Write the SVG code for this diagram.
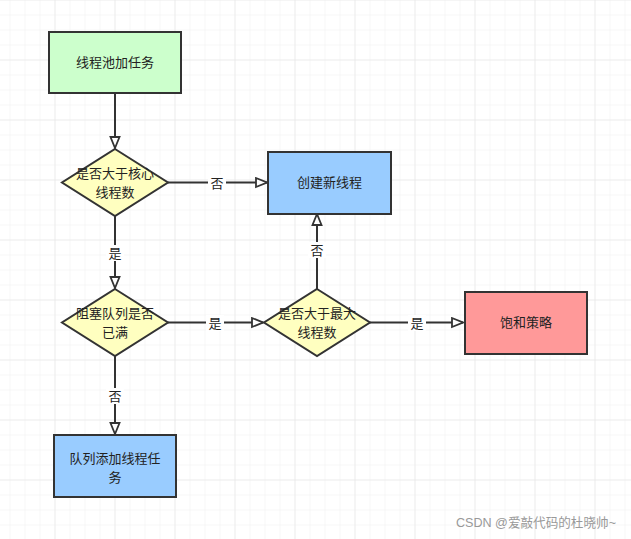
<svg xmlns="http://www.w3.org/2000/svg" width="631" height="539" viewBox="0 0 631 539">
<defs>
<pattern id="minor" x="9.5" y="14.5" width="15" height="15" patternUnits="userSpaceOnUse">
<path d="M0 0H15M0 0V15" fill="none" stroke="#efefef" stroke-width="1"/>
</pattern>
<pattern id="major" x="54.5" y="-0.5" width="60" height="60" patternUnits="userSpaceOnUse">
<path d="M0 0H60M0 0V60" fill="none" stroke="#e3e3e3" stroke-width="1"/>
</pattern>
<marker id="arr" markerWidth="14" markerHeight="12" refX="12" refY="6" orient="auto" markerUnits="userSpaceOnUse">
<path d="M1 1.5L12 6L1 10.5Z" fill="#fff" stroke="#333" stroke-width="1.8"/>
</marker>
</defs>
<style>
.n{stroke:#333;stroke-width:2}
.t{font-family:"Noto Sans CJK SC","Liberation Sans",sans-serif;font-size:13px;fill:#222;text-anchor:middle}
.l{font-family:"Noto Sans CJK SC","Liberation Sans",sans-serif;font-size:13px;fill:#222;text-anchor:middle}
.c{stroke:#333;stroke-width:2;fill:none;marker-end:url(#arr)}
.lb{fill:#fff}
</style>
<rect width="631" height="539" fill="#fff"/>
<rect width="631" height="539" fill="url(#minor)"/>
<rect width="631" height="539" fill="url(#major)"/>
<g id="connectors">
<path class="c" d="M115 93V148"/>
<path class="c" d="M168 182.5H267"/>
<path class="c" d="M115 216V288"/>
<path class="c" d="M168 322.5H263"/>
<path class="c" d="M317 289V214"/>
<path class="c" d="M370 322.5H463"/>
<path class="c" d="M115 356V434"/>
<rect class="lb" x="208" y="175" width="18" height="16"/>
<text class="l" x="217" y="187.5">否</text>
<rect class="lb" x="106" y="245" width="18" height="16"/>
<text class="l" x="115" y="257.5">是</text>
<rect class="lb" x="206" y="315" width="18" height="16"/>
<text class="l" x="215" y="327.5">是</text>
<rect class="lb" x="308" y="242" width="18" height="16"/>
<text class="l" x="317" y="254.5">否</text>
<rect class="lb" x="408" y="315" width="18" height="16"/>
<text class="l" x="417" y="327.5">是</text>
<rect class="lb" x="106" y="388" width="18" height="16"/>
<text class="l" x="115" y="400.5">否</text>
</g>
<g id="start">
<rect class="n" x="49" y="32" width="132" height="61" fill="#ccffcc"/>
<text class="t" x="115" y="67">线程池加任务</text>
</g>
<g id="d1">
<polygon class="n" points="115,149 168,182.5 115,216 62,182.5" fill="#ffffc0"/>
<text class="t" x="115" y="178">是否大于核心</text>
<text class="t" x="115" y="197">线程数</text>
</g>
<g id="create">
<rect class="n" x="268" y="152" width="123" height="62" fill="#99ccff"/>
<text class="t" x="329.5" y="187">创建新线程</text>
</g>
<g id="d2">
<polygon class="n" points="115,289 168,322.5 115,356 62,322.5" fill="#ffffc0"/>
<text class="t" x="115" y="318">阻塞队列是否</text>
<text class="t" x="115" y="337">已满</text>
</g>
<g id="d3">
<polygon class="n" points="317,289 370,322.5 317,356 264,322.5" fill="#ffffc0"/>
<text class="t" x="317" y="318">是否大于最大</text>
<text class="t" x="317" y="337">线程数</text>
</g>
<g id="reject">
<rect class="n" x="465" y="292" width="122" height="62" fill="#ff9999"/>
<text class="t" x="526" y="327">饱和策略</text>
</g>
<g id="queue">
<rect class="n" x="54" y="435" width="122" height="62" fill="#99ccff"/>
<text class="t" x="115" y="463">队列添加线程任</text>
<text class="t" x="115" y="482">务</text>
</g>
<text x="616" y="527" font-family="'Liberation Sans','Noto Sans CJK SC',sans-serif" font-size="12.6" fill="#999" text-anchor="end">CSDN @爱敲代码的杜晓帅~</text>
</svg>
